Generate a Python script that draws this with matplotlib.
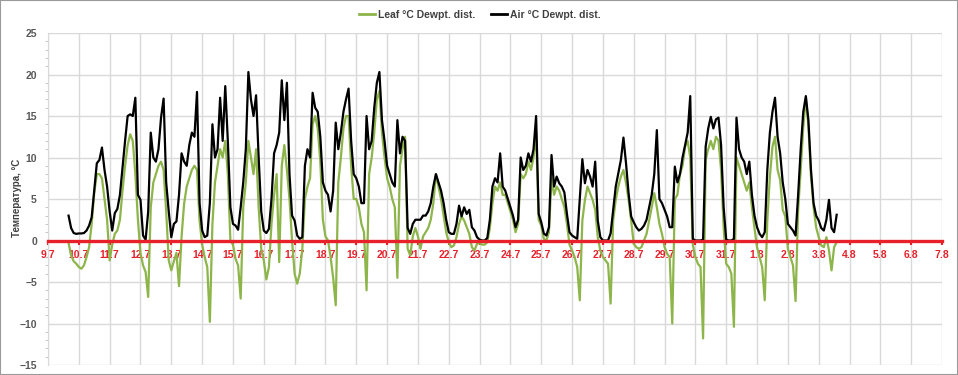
import numpy as np
import matplotlib
matplotlib.use("Agg")
import matplotlib.pyplot as plt
from matplotlib.lines import Line2D
from matplotlib.patches import Rectangle

plt.rcParams['font.family'] = ['Liberation Sans', 'DejaVu Sans']

# x tick labels: one per day starting 9 July
day_labels = ['9.7', '10.7', '11.7', '12.7', '13.7', '14.7', '15.7', '16.7', '17.7',
              '18.7', '19.7', '20.7', '21.7', '22.7', '23.7', '24.7', '25.7', '26.7',
              '27.7', '28.7', '29.7', '30.7', '31.7', '1.8', '2.8', '3.8', '4.8',
              '5.8', '6.8', '7.8']

# samples every 2 hours, first sample on 9.7 at 16:00
start_hour = 16
step_hours = 2

air = [
    3.0, 1.5, 0.9, 0.8,                                              # 9.7
    0.85, 0.85, 0.9, 1.2, 1.8, 2.8, 6.0, 9.3, 9.7, 11.2, 8.5, 6.5,   # 10.7
    3.5, 1.2, 3.3, 3.8, 5.5, 8.8, 12.0, 15.0, 15.2, 15.0, 17.2, 5.5, # 11.7
    4.9, 0.6, 0.1, 3.5, 13.0, 10.0, 9.5, 11.0, 14.8, 17.1, 7.0, 3.5, # 12.7
    0.4, 2.0, 2.3, 5.5, 10.5, 9.5, 9.0, 11.5, 13.0, 12.5, 17.9, 4.5, # 13.7
    1.2, 0.4, 0.6, 4.5, 14.0, 10.0, 11.0, 17.2, 12.0, 18.6, 12.0, 4.0, # 14.7
    2.0, 1.8, 1.3, 4.0, 7.0, 11.0, 20.3, 17.0, 15.0, 17.5, 10.0, 3.5, # 15.7
    1.2, 0.9, 1.4, 5.0, 10.5, 11.5, 13.0, 19.3, 14.5, 19.0, 8.0, 3.0, # 16.7
    2.4, 0.6, 0.2, 0.4, 9.0, 11.0, 10.0, 17.8, 16.0, 15.5, 12.5, 7.0, # 17.7
    6.0, 5.5, 3.5, 6.0, 14.2, 11.0, 13.0, 15.5, 17.0, 18.3, 12.0, 8.0, # 18.7
    7.5, 6.5, 4.5, 4.5, 15.0, 11.0, 12.0, 16.0, 19.0, 20.3, 14.5, 12.0, # 19.7
    9.0, 8.0, 7.0, 6.5, 14.5, 10.5, 12.5, 12.0, 1.5, 0.8, 2.0, 2.5,  # 20.7
    2.5, 2.5, 3.0, 3.0, 3.5, 4.5, 6.5, 8.0, 7.0, 6.0, 4.5, 2.5,      # 21.7
    1.0, 0.8, 0.8, 2.0, 4.2, 2.9, 4.0, 3.2, 3.7, 1.6, 1.2, 0.4,      # 22.7
    0.1, 0.0, 0.0, 0.3, 2.5, 6.5, 7.5, 7.0, 10.5, 6.5, 6.0, 5.0,     # 23.7
    4.0, 3.0, 1.6, 2.5, 10.0, 8.5, 9.0, 10.5, 9.5, 11.0, 15.0, 3.2,  # 24.7
    2.2, 0.85, 0.6, 1.6, 10.3, 6.5, 7.7, 6.9, 6.5, 5.8, 3.2, 1.0,    # 25.7
    0.6, 0.4, 0.2, 4.9, 9.8, 6.9, 8.5, 7.7, 6.5, 9.5, 2.4, 0.4,      # 26.7
    0.0, 0.0, 0.0, 0.85, 3.7, 6.5, 8.1, 9.7, 12.4, 9.3, 5.7, 2.9,    # 27.7
    2.2, 1.6, 1.2, 1.4, 1.8, 2.5, 4.0, 5.5, 8.0, 13.3, 5.0, 4.5,     # 28.7
    3.7, 2.9, 1.6, 1.6, 8.9, 7.0, 8.0, 10.0, 11.5, 13.0, 17.4, 0.2,  # 29.7
    0.0, 0.0, 0.0, 0.1, 11.3, 13.5, 14.9, 13.5, 14.6, 14.8, 11.5, 4.0, # 30.7
    0.1, 0.0, 0.0, 0.2, 14.8, 11.0, 10.0, 9.5, 8.0, 9.5, 5.5, 3.0,   # 31.7
    1.6, 0.8, 0.4, 1.0, 8.5, 13.0, 15.5, 17.2, 12.5, 10.5, 7.0, 5.0, # 1.8
    2.0, 1.6, 1.2, 0.6, 5.5, 11.0, 15.5, 17.4, 14.5, 8.5, 4.5, 3.0,  # 2.8
    2.4, 1.5, 1.2, 2.5, 4.9, 1.5, 1.0, 3.1,                          # 3.8
]

leaf = [
    -0.3, -1.8, -2.5, -2.8,                                          # 9.7
    -3.2, -3.4, -3.0, -2.0, -0.8, 2.0, 5.7, 8.0, 8.0, 7.5, 5.0, 2.5, # 10.7
    -2.4, -0.5, 0.8, 1.2, 2.5, 6.0, 9.0, 11.5, 12.8, 12.0, 8.0, 2.5, # 11.7
    -1.5, -3.0, -3.8, -6.8, 4.0, 7.0, 8.0, 9.0, 9.5, 8.5, 3.5, -2.4, # 12.7
    -3.6, -2.5, -1.5, -5.5, 0.5, 4.5, 6.5, 7.5, 8.5, 9.0, 8.5, 2.4,  # 13.7
    -0.5, -2.0, -3.2, -9.8, 2.0, 7.0, 9.0, 11.0, 10.0, 12.0, 8.0, 0.0, # 14.7
    -0.5, -2.2, -3.0, -7.0, 4.0, 7.0, 12.0, 10.0, 8.0, 11.0, 4.0, -1.0, # 15.7
    -2.4, -4.7, -3.2, 2.0, 5.5, 8.0, -2.6, 9.0, 11.5, 8.5, 5.0, 0.0, # 16.7
    -4.0, -5.2, -4.0, -1.0, 5.0, 6.5, 7.5, 14.0, 15.0, 13.5, 9.5, 2.5, # 17.7
    0.5, 0.0, -2.0, -4.5, -7.8, 7.0, 10.0, 13.5, 15.0, 15.0, 9.0, 5.0, # 18.7
    5.0, 4.0, 2.0, 1.0, -6.0, 8.0, 10.0, 13.0, 17.0, 18.0, 13.0, 10.0, # 19.7
    7.5, 6.5, 5.0, 4.0, -4.5, 9.0, 11.0, 12.5, -1.0, -1.8, 0.5, 1.5, # 20.7
    0.5, -1.0, 0.5, 1.0, 1.5, 2.5, 4.5, 8.0, 6.5, 5.0, 3.0, 1.0,     # 21.7
    -0.2, -0.8, -0.6, 0.4, 2.0, 2.9, 2.4, 1.6, 0.8, -0.8, -1.2, -0.4, # 22.7
    -0.3, -0.5, -0.5, -0.2, 1.5, 4.5, 6.5, 6.0, 7.0, 5.5, 5.5, 4.5,  # 23.7
    3.5, 2.5, 1.0, 2.0, 8.0, 7.5, 8.0, 9.5, 8.5, 10.0, 13.0, 2.5,    # 24.7
    1.8, 0.2, 0.0, 1.0, 7.5, 5.5, 6.5, 6.0, 5.0, 4.0, 2.0, -0.5,     # 25.7
    -1.2, -2.0, -3.2, -7.2, 2.4, 4.9, 6.5, 5.7, 4.9, 3.7, 0.4, -1.2, # 26.7
    -2.0, -2.4, -2.8, -7.6, 2.4, 4.9, 6.5, 7.7, 8.5, 6.9, 4.9, 2.4,  # 27.7
    -0.4, -0.8, -1.0, -0.8, 0.0, 0.8, 2.4, 4.0, 5.7, 4.0, 2.0, 0.8,  # 28.7
    -0.8, -1.6, -2.0, -10.0, 5.0, 5.5, 8.0, 9.0, 11.3, 12.0, 10.0, -0.5, # 29.7
    -2.0, -2.8, -3.2, -11.8, 9.7, 11.0, 12.0, 11.0, 12.5, 12.0, 8.5, 1.6, # 30.7
    -2.8, -3.2, -4.0, -10.4, 10.0, 9.0, 8.0, 7.0, 6.0, 7.0, 4.0, 1.5, # 31.7
    -0.8, -2.0, -3.2, -7.2, 2.4, 7.7, 11.3, 12.5, 8.5, 7.3, 3.7, 2.9, # 1.8
    -1.0, -2.0, -3.0, -7.3, 3.7, 8.5, 13.7, 17.2, 13.7, 7.7, 4.0, 1.6, # 2.8
    0.4, -0.6, -0.8, 0.4, -1.2, -3.6, -0.8, -0.2,                    # 3.8
]

t = (start_hour + step_hours * np.arange(len(air))) / 24.0

fig = plt.figure(figsize=(9.58, 3.75), dpi=100)
ax = fig.add_axes([48 / 958, 10 / 375, 894 / 958, 332 / 375])

green = '#8DB54A'
ax.plot(t, leaf, color=green, lw=1.6, zorder=3)
ax.plot(t, air, color='black', lw=1.6, zorder=4)

ax.set_xlim(0, 29)
ax.set_ylim(-15, 25)
ax.set_xticks(np.arange(len(day_labels)))
ax.set_xticklabels(day_labels)
ax.set_yticks(np.arange(-15, 26, 5))
ax.set_yticks(np.arange(-15, 26, 1), minor=True)

ax.grid(True, which='major', color='#D9D9D9', lw=1.0, zorder=0)
ax.set_axisbelow(True)

for s in ('top', 'right'):
    ax.spines[s].set_visible(False)
ax.spines['left'].set_color('#D9D9D9')
ax.spines['bottom'].set_position(('data', 0))
ax.spines['bottom'].set_color('#E8202A')
ax.spines['bottom'].set_linewidth(2.4)
ax.spines['bottom'].set_zorder(5)

ax.tick_params(axis='x', colors='#E8202A', labelsize=7.5, length=3, width=1.5, pad=4)
for lab in ax.get_xticklabels():
    lab.set_fontweight('bold')
ax.tick_params(axis='y', which='major', colors='#595959', labelsize=7.5, length=0, pad=8)
ax.tick_params(axis='y', which='minor', color='#BFBFBF', length=2)
for lab in ax.get_yticklabels():
    lab.set_fontweight('bold')

fig.text(17 / 958, 1 - 198 / 375, 'Температура, °C', rotation=90, ha='center', va='center',
         fontsize=7, fontweight='bold', color='#404040')

handles = [Line2D([], [], color=green, lw=2), Line2D([], [], color='black', lw=2)]
fig.legend(handles, ['Leaf °C Dewpt. dist.', 'Air °C Dewpt. dist.'], loc='center',
           bbox_to_anchor=(480 / 958, 1 - 15 / 375), ncol=2, frameon=False,
           prop={'size': 7.5, 'weight': 'bold'}, handlelength=1.5, handletextpad=0.3,
           columnspacing=1.5, labelcolor='#404040')

fig.patches.append(Rectangle((0, 0), 1, 1, transform=fig.transFigure, fill=False,
                             edgecolor='#9A9A9A', lw=1.5))

fig.savefig('out.png', dpi=100)
